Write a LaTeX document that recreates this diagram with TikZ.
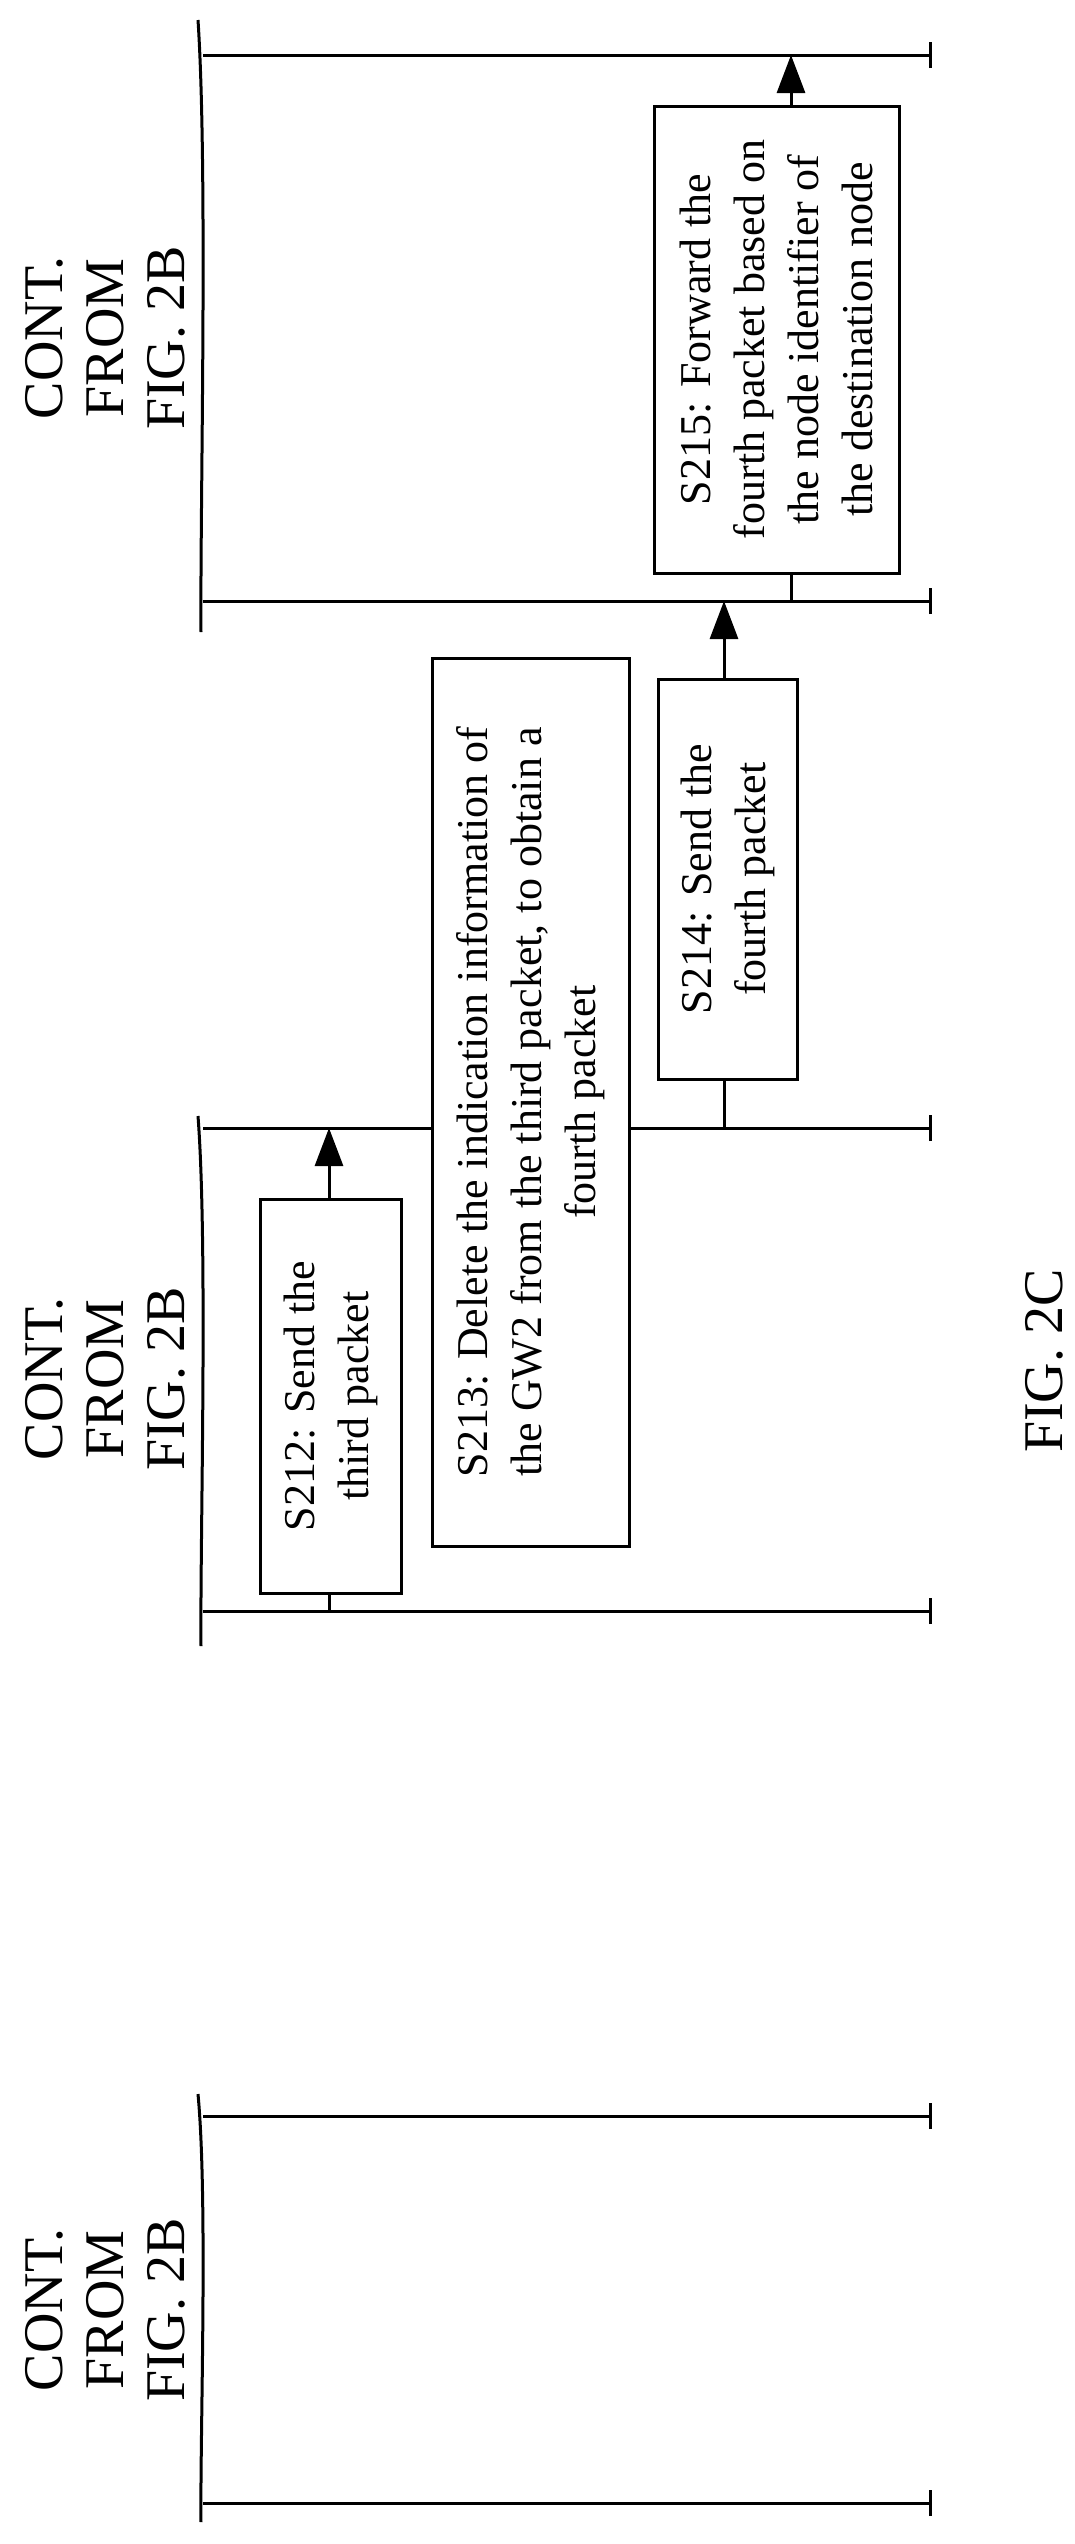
\documentclass[tikz,border=0pt]{standalone}
\usepackage{fontspec}
\setmainfont{Liberation Serif}
\usetikzlibrary{arrows.meta}
\begin{document}
\begin{tikzpicture}[x=1pt,y=-1pt,line width=3pt,
  box/.style={draw,fill=white,rotate=90,align=center,inner sep=0pt,font=\fontsize{44}{54}\selectfont},
  cont/.style={rotate=90,align=center,font=\fontsize{56}{61}\selectfont},
  arr/.style={-{Triangle[length=38pt,width=28pt]}}]
\useasboundingbox (0,0) rectangle (1074,2544);
% groups: brackets, lifelines, ticks
\foreach \t/\b/\bt/\bb [count=\i] in {55/601/20/632, 1128/1611/1116/1646, 2116/2503/2094/2522}{
  \pgfmathsetmacro{\ca}{\bt+0.25*(\bb-\bt)}
  \pgfmathsetmacro{\cb}{\bb-0.2*(\bb-\bt)}
  \draw (198,\bt) .. controls (208,\ca) and (200,\cb) .. (201,\bb);
  \coordinate (L\i a) at (203,\t); \coordinate (R\i a) at (930,\t);
  \coordinate (L\i b) at (203,\b); \coordinate (R\i b) at (930,\b);
  \draw (L\i a) -- (R\i a); \draw (L\i b) -- (R\i b);
  \draw ([yshift=-13pt]R\i a) -- ([yshift=13pt]R\i a);
  \draw ([yshift=-13pt]R\i b) -- ([yshift=13pt]R\i b);
}
\node[cont] (c1) at (105,338) {CONT.\\FROM\\FIG. 2B};
\node[cont] (c2) at (105,1379) {CONT.\\FROM\\FIG. 2B};
\node[cont] (c3) at (105,2310) {CONT.\\FROM\\FIG. 2B};
% S215
\node[box,minimum width=467pt,minimum height=245pt] (s215) at (776.5,339.5)
 {S215: Forward the\\fourth packet based on\\the node identifier of\\the destination node};
\coordinate (p215b) at (791,601); \coordinate (p215t) at (791,55);
\draw (p215b) -- (p215b|-s215.west);
\draw[arr] (p215t|-s215.east) -- (p215t);
% S213
\node[box,minimum width=888pt,minimum height=197pt] (s213) at (530.5,1102)
 {S213: Delete the indication information of\\the GW2 from the third packet, to obtain a\\fourth packet};
% S214
\node[box,minimum width=400pt,minimum height=139pt] (s214) at (727.5,879)
 {S214: Send the\\fourth packet};
\coordinate (p214b) at (724,1128); \coordinate (p214t) at (724,601);
\draw (p214b) -- (p214b|-s214.west);
\draw[arr] (p214t|-s214.east) -- (p214t);
% S212
\node[box,minimum width=394pt,minimum height=141pt] (s212) at (330.5,1396)
 {S212: Send the\\third packet};
\coordinate (p212b) at (329,1611); \coordinate (p212t) at (329,1128);
\draw (p212b) -- (p212b|-s212.west);
\draw[arr] (p212t|-s212.east) -- (p212t);
\node[cont] (fig) at (1044,1361) {FIG. 2C};
\end{tikzpicture}
\end{document}
